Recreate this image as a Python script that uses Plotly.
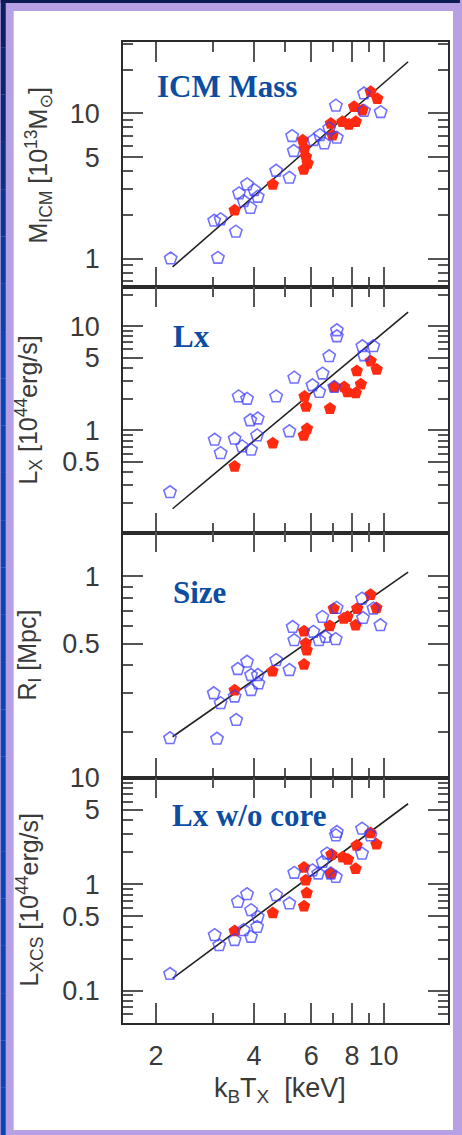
import plotly.graph_objects as go
from plotly.subplots import make_subplots

# ---------------- data ----------------
fit_T = [2.25, 11.9]

mass_blue_T = [2.22, 3.10, 3.52, 3.02, 3.16, 3.60, 3.81, 4.01, 4.11, 3.90, 3.72, 4.68, 5.14, 5.30, 5.24,
               6.10, 6.38, 6.58, 6.81, 7.19, 7.14, 8.71, 9.80, 8.71]
mass_blue_M = [1.00, 1.01, 1.53, 1.82, 1.86, 2.81, 3.24, 2.96, 2.66, 2.23, 2.48, 4.02, 3.60, 5.50, 6.97,
               6.54, 7.08, 6.21, 7.88, 6.79, 11.3, 13.7, 10.2, 10.4]
mass_red_T = [3.49, 4.57, 5.65, 5.72, 5.78, 5.85, 5.69, 6.89, 6.97, 7.48, 7.83, 8.22, 8.12, 8.61, 9.13, 9.57]
mass_red_M = [2.15, 3.24, 6.54, 5.74, 5.02, 4.52, 4.11, 8.53, 7.08, 8.75, 8.40, 8.75, 11.1, 10.5, 14.1, 12.6]
mass_fit = [0.875, 22.7]

lx_blue_T = [2.21, 3.03, 3.16, 3.49, 3.59, 3.81, 3.68, 3.92, 3.90, 4.11, 4.09, 4.68, 5.14, 5.32, 6.05,
             6.35, 6.50, 6.81, 7.19, 7.19, 7.06, 8.61, 9.31, 8.71]
lx_blue_L = [0.255, 0.813, 0.605, 0.832, 2.12, 2.01, 0.702, 0.652, 1.25, 1.30, 0.895, 2.12, 0.98, 3.21, 2.71,
             2.34, 3.51, 5.15, 9.15, 8.01, 2.61, 6.43, 6.43, 5.26]
lx_red_T = [3.49, 4.57, 5.69, 5.82, 5.72, 5.78, 6.85, 7.06, 7.57, 7.75, 8.22, 8.52, 8.28, 9.13, 9.53]
lx_red_L = [0.451, 0.755, 0.895, 1.04, 2.12, 1.70, 1.62, 2.61, 2.61, 2.34, 2.29, 2.77, 3.72, 4.63, 3.84]
lx_fit = [0.177, 13.7]

size_blue_T = [2.21, 3.08, 3.53, 3.01, 3.16, 3.49, 3.57, 3.81, 3.92, 4.11, 4.13, 3.92, 4.68, 5.14, 5.26,
               5.32, 6.09, 6.34, 6.49, 6.64, 7.13, 7.18, 8.59, 8.65, 9.31, 9.78]
size_blue_R = [0.188, 0.187, 0.227, 0.299, 0.270, 0.289, 0.384, 0.414, 0.361, 0.361, 0.331, 0.309, 0.421,
               0.380, 0.593, 0.517, 0.564, 0.517, 0.658, 0.535, 0.523, 0.722, 0.795, 0.651, 0.717, 0.604]
size_red_T = [3.49, 4.56, 5.70, 5.77, 5.81, 5.70, 6.84, 7.03, 7.55, 7.75, 8.21, 8.30, 9.12, 9.51]
size_red_R = [0.309, 0.376, 0.568, 0.500, 0.467, 0.403, 0.600, 0.717, 0.647, 0.660, 0.604, 0.717, 0.828, 0.722]
size_fit = [0.191, 1.045]

lxcs_blue_T = [2.21, 3.03, 3.13, 3.49, 3.57, 3.81, 3.92, 4.11, 4.09, 3.92, 3.72, 4.68, 5.14, 5.32, 6.05,
               6.30, 6.50, 6.71, 7.14, 7.19, 6.89, 7.14, 8.59, 9.12, 8.59]
lxcs_blue_L = [0.143, 0.332, 0.267, 0.298, 0.682, 0.806, 0.570, 0.493, 0.397, 0.320, 0.370, 0.789, 0.659,
               1.28, 1.35, 1.26, 1.62, 1.94, 2.88, 3.10, 1.26, 1.17, 3.33, 2.88, 1.94]
lxcs_red_T = [3.49, 4.57, 5.70, 5.77, 5.81, 5.70, 6.92, 7.49, 7.78, 8.21, 8.27, 9.12, 9.51, 6.89]
lxcs_red_L = [0.364, 0.538, 1.44, 1.09, 0.829, 0.621, 1.91, 1.80, 1.71, 1.40, 2.32, 3.03, 2.38, 1.26]
lxcs_fit = [0.130, 5.72]

x_major = [2, 4, 6, 8, 10]
x_major_text = ["2", "4", "6", "8", "10"]
x_minor = [3, 5, 7, 9]

panel_labels = ["ICM Mass", "Lx", "Size", "Lx w/o core"]
y_titles = ["M<sub>ICM</sub> [10<sup>13</sup>M<sub>⊙</sub>]",
            "L<sub>X</sub> [10<sup>44</sup>erg/s]",
            "R<sub>I</sub> [Mpc]",
            "L<sub>XCS</sub> [10<sup>44</sup>erg/s]"]
x_title = "k<sub>B</sub>T<sub>X</sub>  [keV]"

y_major = [[1, 5, 10], [0.5, 1, 5, 10], [0.5, 1], [0.1, 0.5, 1, 5, 10]]
y_major_text = [["1", "5", "10"], ["0.5", "1", "5", "10"], ["0.5", "1"], ["0.1", "0.5", "1", "5", "10"]]
y_minor = [[0.7, 0.8, 0.9, 2, 3, 4, 6, 7, 8, 9, 20, 30],
           [0.2, 0.3, 0.4, 0.6, 0.7, 0.8, 0.9, 2, 3, 4, 6, 7, 8, 9, 20],
           [0.2, 0.3, 0.4, 0.6, 0.7, 0.8, 0.9],
           [0.06, 0.07, 0.08, 0.09, 0.2, 0.3, 0.4, 0.6, 0.7, 0.8, 0.9, 2, 3, 4, 6, 7, 8, 9]]
y_ranges = [[-0.198, 1.492], [-0.98, 1.375], [-0.903, 0.197], [-1.305, 1.002]]

panels = [
    (mass_blue_T, mass_blue_M, mass_red_T, mass_red_M, mass_fit),
    (lx_blue_T, lx_blue_L, lx_red_T, lx_red_L, lx_fit),
    (size_blue_T, size_blue_R, size_red_T, size_red_R, size_fit),
    (lxcs_blue_T, lxcs_blue_L, lxcs_red_T, lxcs_red_L, lxcs_fit),
]

# ---------------- figure ----------------
W, H = 462, 1135
ML, MR, MT, MB = 123, 12, 42, 112
PW, PH = W - ML - MR, H - MT - MB


def px(x):
    return (x - ML) / PW


def py(y):
    return (H - MB - y) / PH


fig = make_subplots(rows=4, cols=1, shared_xaxes=True, vertical_spacing=0)

BLUE = "rgba(60,60,255,0.72)"
RED = "#ff2a10"
AX = "#2b2b2b"
TK = "#555555"
TICKFONT = dict(family="Liberation Sans, DejaVu Sans", size=27, color="#3a3a3a")

for i, (bt, bv, rt, rv, fit) in enumerate(panels, start=1):
    fig.add_trace(go.Scatter(x=fit_T, y=fit, mode="lines",
                             line=dict(color="#222222", width=1.6), showlegend=False), row=i, col=1)
    fig.add_trace(go.Scatter(x=rt, y=rv, mode="markers",
                             marker=dict(symbol="pentagon", size=13, color=RED, line=dict(width=0)),
                             showlegend=False), row=i, col=1)
    fig.add_trace(go.Scatter(x=bt, y=bv, mode="markers",
                             marker=dict(symbol="pentagon-open", size=13, color=BLUE,
                                         line=dict(width=1.6, color=BLUE)),
                             showlegend=False), row=i, col=1)
    fig.update_yaxes(type="log", range=y_ranges[i - 1], tickmode="array",
                     tickvals=y_major[i - 1], ticktext=y_major_text[i - 1],
                     ticks="inside", ticklen=20, tickwidth=1.5, tickcolor=TK,
                     minor=dict(tickvals=y_minor[i - 1], ticks="inside", ticklen=10,
                                tickwidth=1.5, tickcolor=TK),
                     showline=True, linecolor=AX, linewidth=1.6, mirror="allticks",
                     showgrid=False, zeroline=False, tickfont=TICKFONT,
                     ticklabelstandoff=16, row=i, col=1)
    fig.update_xaxes(type="log", range=[0.200, 1.198], tickmode="array",
                     tickvals=x_major, ticktext=x_major_text,
                     ticks="inside", ticklen=20, tickwidth=1.5, tickcolor=TK,
                     minor=dict(tickvals=x_minor, ticks="inside", ticklen=10,
                                tickwidth=1.5, tickcolor=TK),
                     showline=True, linecolor=AX, linewidth=1.6, mirror="allticks",
                     showgrid=False, zeroline=False, tickfont=TICKFONT,
                     showticklabels=(i == 4), ticklabelstandoff=8, row=i, col=1)

# background frame
shapes = []
shapes.append(dict(type="rect", xref="paper", yref="paper", layer="below",
                   x0=px(0), x1=px(W), y0=py(H), y1=py(0),
                   fillcolor="#b7a1e4", line=dict(width=0)))
# left dark strip with vertical gradient
n = 24
top_c = (12, 30, 90)
mid_c = (10, 70, 175)
for k in range(n):
    y0 = H * k / n
    y1 = H * (k + 1) / n
    t = min(1.0, (k + 0.5) / (n * 0.3))
    c = tuple(int(top_c[j] + (mid_c[j] - top_c[j]) * t) for j in range(3))
    shapes.append(dict(type="rect", xref="paper", yref="paper", layer="below",
                       x0=px(0), x1=px(5), y0=py(y1), y1=py(y0),
                       fillcolor="rgb(%d,%d,%d)" % c, line=dict(width=0)))
shapes.append(dict(type="rect", xref="paper", yref="paper", layer="below",
                   x0=px(0), x1=px(W), y0=py(3), y1=py(0),
                   fillcolor="rgb(12,28,80)", line=dict(width=0)))
shapes.append(dict(type="rect", xref="paper", yref="paper", layer="below",
                   x0=px(13), x1=px(455), y0=py(1130), y1=py(11),
                   fillcolor="white", line=dict(width=0)))

annotations = []
label_pos = [(155, 87), (171, 336), (171, 592), (170, 815)]
for lab, (lx, ly) in zip(panel_labels, label_pos):
    annotations.append(dict(text="<b>%s</b>" % lab, xref="paper", yref="paper",
                            x=px(lx), y=py(ly), xanchor="left", yanchor="middle",
                            showarrow=False,
                            font=dict(family="Liberation Serif, Times New Roman, serif",
                                      size=31, color="#0c4da2")))
title_pos = [(38, 165), (28, 410), (28, 655), (29, 900)]
TITLEFONT = dict(family="Liberation Sans, DejaVu Sans", size=25, color="#3a3a3a")
for t, (tx, ty) in zip(y_titles, title_pos):
    annotations.append(dict(text=t, xref="paper", yref="paper", x=px(tx), y=py(ty),
                            xanchor="center", yanchor="middle", textangle=-90,
                            showarrow=False, font=TITLEFONT))
annotations.append(dict(text=x_title, xref="paper", yref="paper", x=px(281), y=py(1090),
                        xanchor="center", yanchor="middle", showarrow=False,
                        font=dict(family="Liberation Sans, DejaVu Sans", size=27, color="#3a3a3a")))

fig.update_layout(width=W, height=H, margin=dict(l=ML, r=MR, t=MT, b=MB),
                  paper_bgcolor="#b7a1e4", plot_bgcolor="rgba(0,0,0,0)",
                  shapes=shapes, annotations=annotations, showlegend=False)

fig.write_html("out.html")
